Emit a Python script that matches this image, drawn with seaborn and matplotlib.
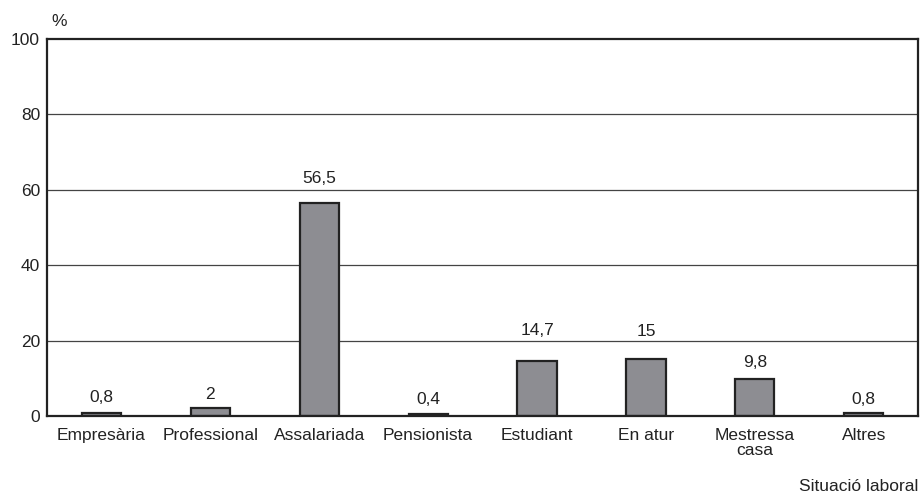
import matplotlib
matplotlib.use("Agg")
import matplotlib.pyplot as plt
import seaborn as sns
import pandas as pd
import numpy as np

categories = ["Empresària", "Professional", "Assalariada", "Pensionista",
              "Estudiant", "En atur", "Mestressa\ncasa", "Altres"]
values = [0.8, 2, 56.5, 0.4, 14.7, 15, 9.8, 0.8]
value_labels = ["0,8", "2", "56,5", "0,4", "14,7", "15", "9,8", "0,8"]
y_ticks = [0, 20, 40, 60, 80, 100]

sns.set_style("white")
plt.rcParams['font.family'] = ['Liberation Sans', 'DejaVu Sans']

df = pd.DataFrame({"cat": categories, "val": values})

fig = plt.figure(figsize=(9.21, 4.94), dpi=100)
ax = fig.add_axes([0.051, 0.158, 0.946, 0.763])

sns.barplot(data=df, x="cat", y="val", ax=ax, color="#8d8d92",
            edgecolor="#222222", linewidth=1.6, width=0.36, saturation=1)

ax.set_ylim(0, 100)
ax.set_xlim(-0.5, len(categories) - 0.5)
ax.set_yticks(y_ticks)
ax.set_yticklabels([str(t) for t in y_ticks], fontsize=12.5, color="#222222")
ax.tick_params(axis="y", length=0, pad=5)
ax.tick_params(axis="x", which="major", length=0, pad=9, labelsize=12.5, labelcolor="#222222")
ax.set_xticks(np.arange(-0.5, len(categories), 1), minor=True)
ax.tick_params(axis="x", which="minor", length=8, width=1.6, color="#222222", direction="out")
for lbl in ax.get_xticklabels():
    lbl.set_linespacing(0.95)

for y in y_ticks[1:-1]:
    ax.axhline(y, color="#444444", linewidth=0.9, zorder=0)

for s in ax.spines.values():
    s.set_visible(True)
    s.set_color("#222222")
    s.set_linewidth(1.6)

ax.set_xlabel("")
ax.set_ylabel("")

label_offsets = [5.5, 4.3, 12.5, 5, 16, 15, 6.5, 4.3]
for i, (v, lab) in enumerate(zip(values, value_labels)):
    ax.annotate(lab, (i, v), xytext=(0, label_offsets[i]), textcoords="offset points",
                ha="center", va="bottom", fontsize=12.5, color="#222222")

fig.text(59 / 921, 1 - 21 / 494, "%", ha="center", va="center", fontsize=12.5, color="#222222")
fig.text(918 / 921, 1 - 486 / 494, "Situació laboral", ha="right", va="center",
         fontsize=12.5, color="#222222")

fig.savefig("out.png", dpi=100)
